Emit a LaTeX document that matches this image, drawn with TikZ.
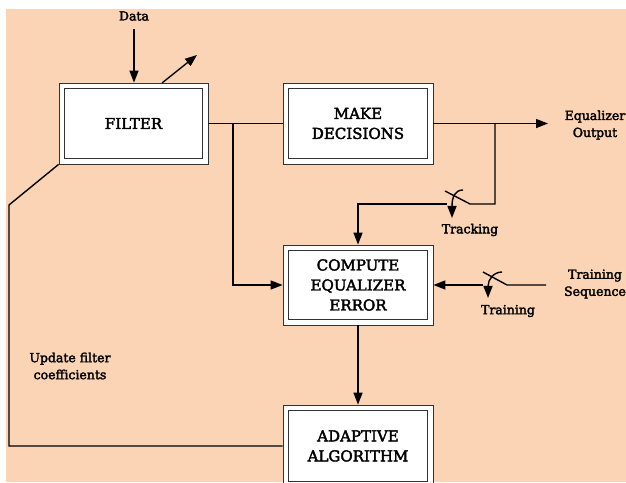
\documentclass[tikz,border=0pt]{standalone}
\usepackage{fontspec}
\setmainfont{DejaVu Serif}
\newfontfamily\semibold[FakeBold=2.5]{DejaVu Serif}
\usetikzlibrary{arrows.meta,calc}
\definecolor{peach}{RGB}{250,212,180}
\tikzset{
  x=1pt,y=1pt,
  blk/.style={draw=black!80,line width=0.8pt,fill=white,minimum width=150pt,minimum height=81pt,inner sep=0pt},
  btxt/.style={font=\semibold\fontsize{15}{20}\selectfont,align=center,inner sep=0pt},
  wire/.style={line width=1.4pt},
  arr/.style={wire,-{Triangle[length=12pt,width=9pt]}},
  lbl/.style={font=\semibold\fontsize{12.5}{17}\selectfont,align=center,inner sep=0pt},
}
\newcommand{\innerbox}[1]{\draw[black!80,line width=0.8pt] ($(#1.north west)+(6,-6)$) rectangle ($(#1.south east)+(-6,6)$);}
\begin{document}
\begin{tikzpicture}
\useasboundingbox (0,0) rectangle (626,482);
\fill[peach] (6,0) rectangle (626,473);
% boxes
\node[blk,minimum width=149pt] (filter) at (133.5,358.5) {};
\innerbox{filter}
\node[btxt] (tfilter) at (filter) {FILTER};
\node[blk] (make) at (358,358.5) {};
\innerbox{make}
\node[btxt] (tmake) at (make) {MAKE\\DECISIONS};
\node[blk,minimum height=80pt] (comp) at (358,197) {};
\innerbox{comp}
\node[btxt] (tcomp) at (comp) {COMPUTE\\EQUALIZER\\ERROR};
\node[blk,minimum height=82pt] (adapt) at (358,36) {};
\innerbox{adapt}
\node[btxt] (tadapt) at (adapt) {ADAPTIVE\\ALGORITHM};
% labels
\node[lbl] (data) at (134,466) {Data};
\node[lbl] (eqout) at (595,357) {Equalizer\\Output};
\node[lbl] (track) at (470,252) {Tracking};
\node[lbl] (train) at (508,171) {Training};
\node[lbl] (tseq) at (595,198) {Training\\Sequence};
\node[lbl] (upd) at (70,116) {Update filter\\coefficients};
% coordinates
\coordinate (din) at (134,453);
\coordinate (dgA) at (162,399);
\coordinate (dgB) at (197,427);
\coordinate (br1) at (233,358.5);
\coordinate (br1b) at (233,197);
\coordinate (out) at (548,358.5);
\coordinate (br2) at (495,358.5);
\coordinate (br2b) at (495,278);
\coordinate (swR) at (470,278);
\coordinate (swT) at (445,291);
\coordinate (swL) at (447,278);
\coordinate (swC) at (358,278);
\coordinate (tsR) at (546,197);
\coordinate (tsP) at (507,197);
\coordinate (tsT) at (483,210);
\coordinate (tsL) at (483,197);
\coordinate (fbA) at (9,36);
\coordinate (fbB) at (9,277);
% connectors
\draw[arr] (din) -- (filter.north -| din);
\draw[arr] (dgA) -- (dgB);
\draw[wire] (filter.east) -- (make.west);
\draw[arr] (br1) -- (br1b) -- (comp.west);
\draw[arr] (make.east) -- (out);
\draw[wire] (br2) -- (br2b) -- (swR) -- (swT);
\draw[arr] (swL) -- (swC) -- (comp.north);
\draw[arr] (463,292) .. controls (455,292) and (452,285) .. (452,264);
\draw[wire] (tsR) -- (tsP) -- (tsT);
\draw[arr] (tsL) -- (comp.east);
\draw[arr] (502,210) .. controls (494,210) and (488,203) .. (488,184);
\draw[arr] (comp.south) -- (adapt.north);
\draw[wire] (adapt.west) -- (fbA) -- (fbB) -- (filter.south west);
\end{tikzpicture}
\end{document}
